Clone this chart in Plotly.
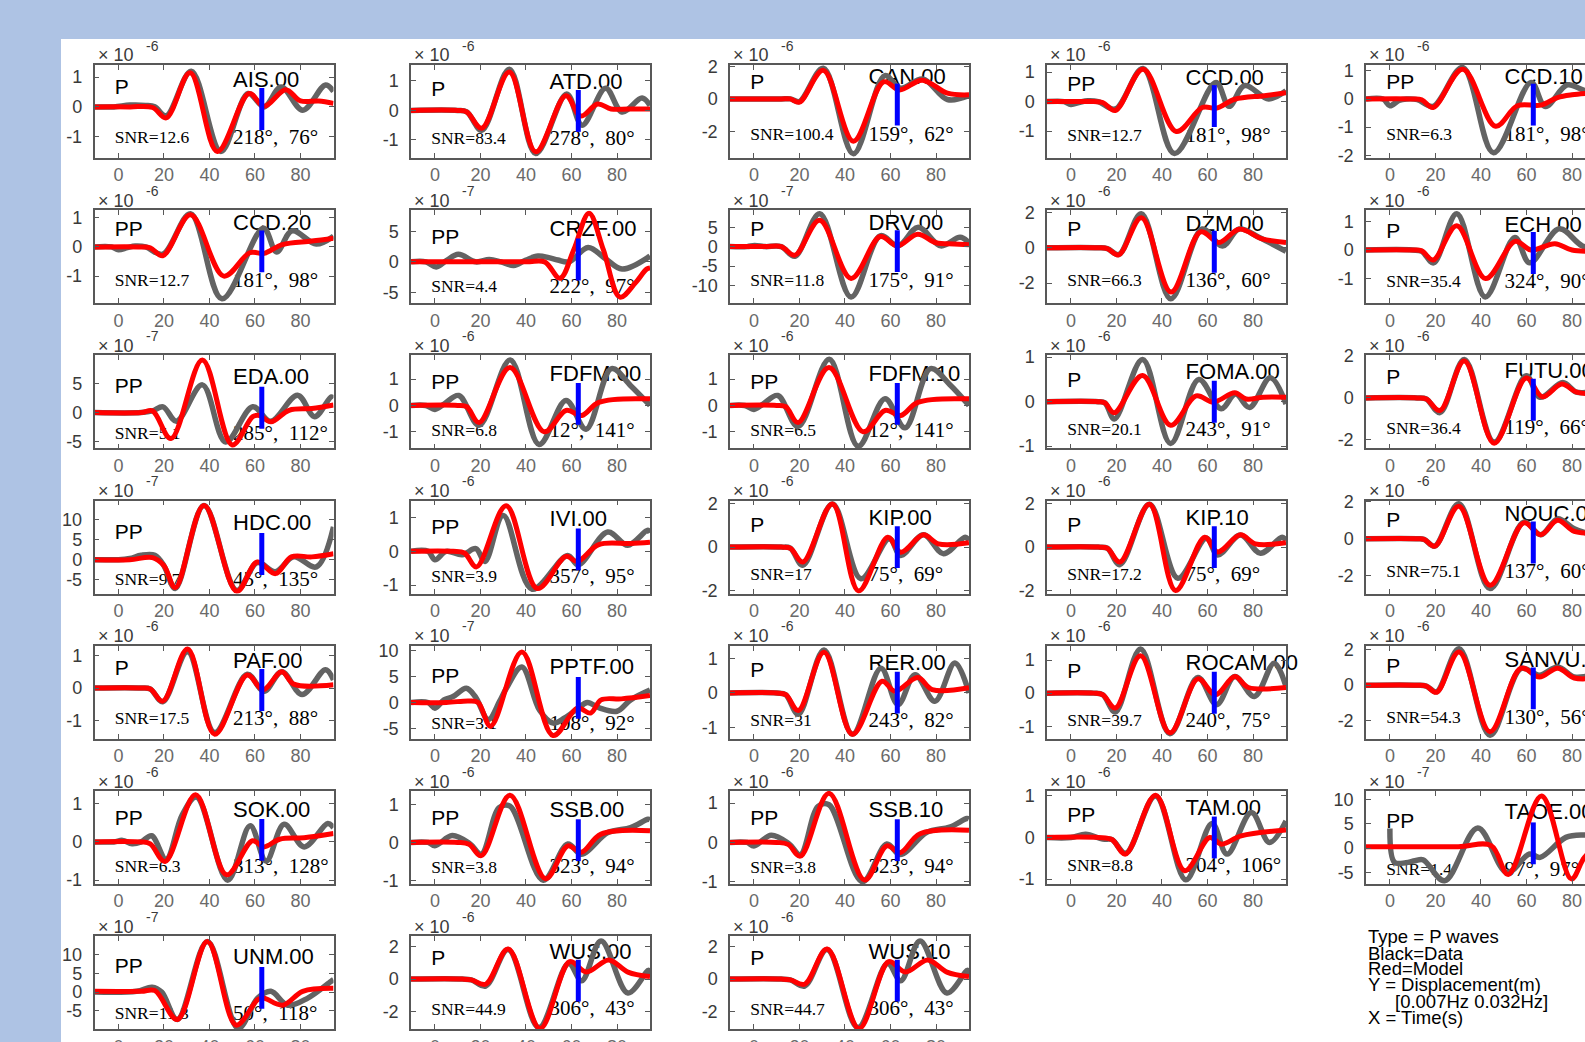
import plotly.graph_objects as go

# ---------------- data ----------------
stations = ["AIS.00", "ATD.00", "CAN.00", "CCD.00", "CCD.10",
            "CCD.20", "CRZF.00", "DRV.00", "DZM.00", "ECH.00",
            "EDA.00", "FDFM.00", "FDFM.10", "FOMA.00", "FUTU.00",
            "HDC.00", "IVI.00", "KIP.00", "KIP.10", "NOUC.00",
            "PAF.00", "PPTF.00", "RER.00", "ROCAM.00", "SANVU.00",
            "SOK.00", "SSB.00", "SSB.10", "TAM.00", "TAOE.00",
            "UNM.00", "WUS.00", "WUS.10"]
phases = ["P", "P", "P", "PP", "PP",
          "PP", "PP", "P", "P", "P",
          "PP", "PP", "PP", "P", "P",
          "PP", "PP", "P", "P", "P",
          "P", "PP", "P", "P", "P",
          "PP", "PP", "PP", "PP", "PP",
          "PP", "P", "P"]
exponents = [-6, -6, -6, -6, -6,
             -6, -7, -7, -6, -6,
             -7, -6, -6, -6, -6,
             -7, -6, -6, -6, -6,
             -6, -7, -6, -6, -6,
             -6, -6, -6, -6, -7,
             -7, -6, -6]
snr = ["12.6", "83.4", "100.4", "12.7", "6.3",
       "12.7", "4.4", "11.8", "66.3", "35.4",
       "5.1", "6.8", "6.5", "20.1", "36.4",
       "9.7", "3.9", "17", "17.2", "75.1",
       "17.5", "3.1", "31", "39.7", "54.3",
       "6.3", "3.8", "3.8", "8.8", "1.4",
       "11.3", "44.9", "44.7"]
azimuth = [218, 278, 159, 181, 181,
           181, 222, 175, 136, 324,
           285, 12, 12, 243, 119,
           45, 357, 75, 75, 137,
           213, 108, 243, 240, 130,
           313, 323, 323, 304, 97,
           50, 306, 306]
takeoff = [76, 80, 62, 98, 98,
           98, 97, 91, 60, 90,
           112, 141, 141, 91, 66,
           135, 95, 69, 69, 60,
           88, 92, 82, 75, 56,
           128, 94, 94, 106, 97,
           118, 43, 43]
y_low = [-1.72, -1.61, -3.63, -1.91, -2.1,
         -1.93, -6.8, -14.6, -3.13, -1.86,
         -6.2, -1.63, -1.63, -1.05, -2.4,
         -8.5, -1.25, -2.12, -2.12, -2.97,
         -1.55, -7.05, -1.33, -1.38, -3.0,
         -1.1, -1.1, -1.06, -1.12, -7.35,
         -9.9, -3.1, -3.1]
y_high = [1.41, 1.54, 2.08, 1.24, 1.21,
          1.26, 8.5, 9.4, 2.12, 1.39,
          9.9, 1.9, 1.9, 1.04, 2.02,
          14.8, 1.5, 2.12, 2.12, 2.07,
          1.29, 11.0, 1.37, 1.43, 2.2,
          1.33, 1.36, 1.31, 1.12, 11.7,
          14.9, 2.65, 2.65]
y_step = [1, 1, 2, 1, 1,
          1, 5, 5, 2, 1,
          5, 1, 1, 1, 2,
          5, 1, 2, 2, 2,
          1, 5, 1, 1, 2,
          1, 1, 1, 1, 5,
          5, 2, 2]
x_ticks = [0, 20, 40, 60, 80]
marker_time = 63

# observed (data) traces: times (s) and values (x 10^exponent m)
data_t = [
    [-10.5, -2, 5, 12, 16, 21, 32, 45, 57, 64, 71.5, 81, 91, 94.5],
    [-10.5, 10, 14, 20.6, 32.7, 44.3, 57.9, 64.7, 75, 82.2, 91, 94.5],
    [-10.5, 12, 16, 20, 30.5, 43.7, 57.5, 64.4, 74.2, 85, 94.5],
    [-10.5, -3, 0, 4, 7.4, 12, 19.5, 31.7, 45.5, 63.7, 69.5, 76.3, 86.9, 94.5],
    [-10.5, -3, 0, 4, 7.3, 12, 19, 32, 45.5, 62, 68.3, 77.9, 86, 94.5],
    [-10.5, -3, 0, 4, 7.4, 12, 19.5, 31.7, 45.5, 63.7, 69.5, 76.3, 86.9, 94.5],
    [-10.5, -4, 0.6, 5, 10.3, 18, 23.9, 29, 34.6, 40, 45.3, 50, 54, 58.9, 67.3, 75, 82.2, 94.5],
    [-10.5, -3, 0.3, 5, 12, 18, 28.9, 42.7, 55.5, 63.4, 72.2, 82.1, 90.6, 94.5],
    [-10.5, 12, 16, 21.1, 30.9, 43.9, 57.7, 66.6, 73.9, 82.8, 94.5],
    [-10.5, 10, 14, 19.2, 29.4, 41.9, 54.9, 61.4, 74.4, 84.6, 94.5],
    [-10.5, 10, 15, 19.6, 25.5, 36.9, 47.1, 59, 66.9, 78.7, 86.2, 93.5, 94.5],
    [-10.5, -4, 0, 4, 10.5, 19.4, 33.1, 45.8, 57.6, 66.4, 77.6, 86, 94.5],
    [-10.5, -4, 0, 4, 10.5, 19.4, 33.1, 45.8, 57.6, 66.4, 77.6, 86, 94.5],
    [-10.5, 12, 15, 19.1, 31.5, 43.8, 56.2, 66, 72.3, 78.5, 87.6, 94.5],
    [-10.5, 12, 16, 22, 32.7, 45.8, 59.9, 66, 76, 82, 90, 94.5],
    [-10.5, 0, 5, 10, 16, 20, 25, 37.6, 52, 61, 69, 77, 87, 94.5],
    [-10.5, -3, 0, 5, 12, 18, 22, 30, 42.7, 58.3, 63, 75.9, 84.7, 93.5, 94.5],
    [-10.5, 12, 16, 21.5, 34.5, 47, 59.5, 64.5, 74.5, 83.3, 92.8, 94.5],
    [-10.5, 12, 16, 21.5, 34.5, 47, 59.5, 64.5, 74.5, 83.3, 92.8, 94.5],
    [-10.5, 12, 15, 19.7, 30.3, 44, 58.8, 66.3, 73.7, 81, 90, 94.5],
    [-10.5, 10, 14, 19.5, 30.4, 42.3, 56.6, 64, 71.8, 80.7, 91, 94.5],
    [-10.5, -3, 0, 4, 8, 13.8, 17.7, 23.5, 28.4, 31.4, 38.2, 46, 52, 57, 63, 67, 72, 80, 86, 94.5],
    [-10.5, 10, 14, 19.5, 30.8, 43.3, 55.8, 63.3, 70.8, 79.5, 88.3, 94.5],
    [-10.5, 10, 14, 19.5, 30.6, 43.5, 55.8, 64, 72, 80.6, 89.3, 94.5],
    [-10.5, 12, 16, 20.5, 30.4, 44, 57.6, 65.7, 73.7, 81, 88, 94.5],
    [-10.5, -2, 1.8, 6, 10, 14.6, 21, 28, 34.3, 48, 57.9, 64.9, 72.8, 81.6, 92, 94.5],
    [-10.5, -3, 0, 7.6, 15.5, 20.4, 28.2, 33, 47.6, 58.4, 64.3, 76, 86, 93.6, 94.5],
    [-10.5, -3, 0, 7.6, 15.5, 20.4, 28.2, 33, 47.6, 58.4, 64.3, 76, 86, 93.6, 94.5],
    [-10.5, 0, 6.5, 14, 18, 24.1, 37.2, 50.5, 62, 68.6, 79.3, 87.2, 94.5],
    [0, 2, 7, 11, 14.6, 24, 38.6, 51.4, 61.3, 66, 77.3, 85.5, 94.5],
    [-10.5, 8, 14.8, 19, 25.9, 39.1, 52.6, 61.2, 67, 74.4, 83.2, 93.5, 94.5],
    [-10.5, 12, 16, 22.3, 32.2, 45.7, 58.7, 64.5, 73, 84.8, 93.9, 94.5],
    [-10.5, 12, 16, 22.3, 32.2, 45.7, 58.7, 64.5, 73, 84.8, 93.9, 94.5],
]
data_v = [
    [0, 0, 0.06, 0.05, 0, -0.3, 1.2, -1.5, 0.45, 0.0, 0.67, -0.11, 0.74, 0.52],
    [0, 0, -0.05, -0.67, 1.4, -1.46, 0.56, -0.5, 0.75, -0.05, 0.42, 0.17],
    [0, 0, 0, -0.16, 1.88, -3.37, 1.43, 0.65, 1.22, -0.04, 0.2],
    [0, 0, -0.1, -0.02, 0.03, 0, -0.25, 1.12, -1.76, 0.65, -0.16, 0.54, 0.09, 0.37],
    [0, 0, -0.24, -0.05, 0.0, -0.02, -0.26, 1.12, -1.91, 0.59, -0.27, 0.5, 0.3, 0.35],
    [0, 0, -0.1, -0.02, 0.03, 0, -0.25, 1.14, -1.78, 0.64, -0.17, 0.55, 0.1, 0.37],
    [0, 0, -0.84, 0.2, 1.24, 0, 0.4, 0, -0.6, 0.3, 0.95, 0.7, 0.3, 0.0, 2.36, 0.5, -1.18, 0.95],
    [0, 0, 0.3, 0, 0, -2.5, 8.5, -13, 2.8, 0.2, 5, 0.2, 2.4, 1.0],
    [0, 0, -0.05, -0.38, 1.92, -2.88, 1.06, 0.1, 1.06, 0.58, -0.2],
    [0, 0, -0.05, -0.45, 1.27, -1.64, 0.44, -0.45, 0.74, 0.14, 0.0],
    [0, 0, 0.3, 1.0, -1.5, 4.8, -5.1, 1.0, -1.5, 3.0, -0.7, 2.7, 2.5],
    [0, 0, -0.15, 0.05, 0.38, -0.75, 1.73, -1.48, 0.19, -0.9, 1.4, 0.75, 0.0],
    [0, 0, -0.15, 0.05, 0.38, -0.8, 1.75, -1.55, 0.25, -0.85, 1.4, 0.8, 0.0],
    [0, 0, -0.03, -0.39, 0.95, -0.94, 0.5, -0.16, 0.17, -0.13, 0.54, -0.05],
    [0, 0, -0.05, -0.7, 1.83, -2.1, 1.05, 0.03, 0.73, 0.27, 0.3, 0.3],
    [0, 0, 0.3, 1.1, 1.1, -1.5, -7.2, 13.6, -7.7, -0.75, -3, 0.7, -1.8, 8.2],
    [0, 0, -0.25, 0, -0.1, 0.08, -0.3, 1.06, -1.12, -0.12, -0.4, 0.57, 0.18, 0.62, 0.55],
    [0, 0, -0.05, -0.83, 1.97, -1.44, 0.38, -0.38, 0.56, -0.3, 0.45, 0.3],
    [0, 0, -0.05, -0.8, 1.95, -1.42, 0.4, -0.36, 0.55, -0.28, 0.45, 0.3],
    [0, 0, -0.03, -0.4, 1.9, -2.7, 0.9, 0.22, 1.08, 0.54, 0.2, 0.1],
    [0, 0, -0.03, -0.42, 1.11, -1.36, 0.42, -0.1, 0.5, -0.2, 0.56, 0.25],
    [0, 0, -1.1, 0.5, 1.15, 2.75, 1.15, -3.3, 0.2, 2.75, 6.9, -1.5, -4.0, -3.0, -1.1, 0.0, -1.0, -1.7, 0.5, 2.4],
    [0, 0, -0.05, -0.62, 1.25, -1.2, 0.72, -0.34, 0.53, -0.24, 0.87, 0.0],
    [0, 0, -0.05, -0.57, 1.33, -1.23, 0.47, -0.35, 0.5, -0.1, 0.9, 0.2],
    [0, 0, -0.05, -0.37, 2.04, -2.8, 0.93, 0.56, 1.02, 0.46, 0.5, 0.4],
    [0, 0, 0.04, -0.05, 0, 0.16, -0.45, 0.7, 1.17, -1.0, 0.42, -0.5, 0.46, -0.13, 0.48, 0.37],
    [0, 0, -0.09, 0.18, -0.04, -0.31, 0.92, 0.96, -1.0, -0.04, -0.31, 0.26, 0.39, 0.61, 0.6],
    [0, 0, -0.09, 0.18, -0.04, -0.31, 0.92, 0.96, -1.0, -0.04, -0.31, 0.26, 0.39, 0.61, 0.6],
    [0, 0, 0.08, -0.04, -0.05, -0.38, 1.0, -1.02, 0.34, -0.4, 0.6, -0.12, 0.4],
    [4.0, -2.9, -3.0, -2.6, -2.4, -6.7, 4.1, -5.0, -1.2, -1.9, 2.2, 2.7, 2.5],
    [0, 0.2, 1.3, 0, -7.3, 13.5, -9.7, -1.6, 0.2, -3.5, -1.6, 2.9, 3.3],
    [0, 0, -0.05, -0.43, 1.82, -3.0, 0.96, -0.1, 2.36, -0.86, 0.54, 0.3],
    [0, 0, -0.05, -0.43, 1.82, -3.0, 0.96, -0.1, 2.36, -0.86, 0.54, 0.3],
]
# synthetic (model) traces
model_t = [
    [-10.5, 5, 15, 21, 31.5, 43.5, 57.4, 64, 73.5, 80, 88, 94.5],
    [-10.5, 10, 14, 20.6, 32.7, 44.3, 57.5, 64, 71.5, 77.4, 85, 94.5],
    [-10.5, 12, 16, 20, 30.5, 43.7, 57, 64, 74, 85, 94.5],
    [-10.5, 10, 14, 19.5, 31.7, 46.3, 57.7, 64, 72, 85, 94.5],
    [-10.5, 10, 14, 19, 32, 46.4, 56, 66.3, 73.6, 80, 94.5],
    [-10.5, 10, 14, 19.5, 31.7, 46.3, 57.7, 64, 72, 85, 94.5],
    [-10.5, 40, 48.2, 55, 61, 67.7, 74, 81.3, 88, 93, 94.5],
    [-10.5, 5, 12, 18, 28.9, 42.7, 55.5, 63, 72, 80, 88, 94.5],
    [-10.5, 12, 16, 21, 31, 44, 57, 65, 74, 84, 94.5],
    [-10.5, 10, 14, 19, 29.4, 42, 55, 62, 72.5, 80, 94.5],
    [-10.5, 10, 15, 23.1, 36.9, 50, 59, 62, 67, 75, 85, 94.5],
    [-10.5, 10, 14, 19.4, 33, 48, 57.6, 64.5, 72, 94.5],
    [-10.5, 10, 14, 19.4, 33, 48, 57.6, 64.5, 72, 94.5],
    [-10.5, 12, 15, 19, 31.5, 43.8, 55, 62.6, 72, 77, 84.5, 94.5],
    [-10.5, 12, 16, 22, 32.7, 45.8, 59.9, 67, 75.5, 82, 90, 94.5],
    [-10.5, 5, 15, 20, 25, 37.6, 52, 61, 69, 76, 85, 94.5],
    [-10.5, 8, 13, 18.3, 31.3, 45, 57.6, 62.5, 72, 86, 94.5],
    [-10.5, 12, 16, 21.5, 34.5, 46, 58.8, 64.5, 74.5, 81, 94.5],
    [-10.5, 12, 16, 21.5, 34.5, 46, 58.8, 64.5, 74.5, 81, 94.5],
    [-10.5, 12, 15, 19.7, 30.3, 44, 58.8, 66.3, 73.7, 81, 90, 94.5],
    [-10.5, 10, 14, 19.5, 30.4, 42.3, 56.6, 63.5, 71.8, 77, 94.5],
    [-10.5, 5, 15, 19, 24.5, 38.2, 51.9, 62.6, 68.4, 73, 81.9, 94.5],
    [-10.5, 10, 14, 19.5, 30.8, 43.3, 56.3, 62, 72, 78.3, 94.5],
    [-10.5, 10, 14, 19.5, 30.6, 43.5, 55.8, 63.5, 72, 78, 94.5],
    [-10.5, 12, 16, 20.5, 30.4, 44, 57.6, 65.7, 73.7, 81, 88, 94.5],
    [-10.5, 10, 14, 20.5, 33.9, 47.5, 58.9, 63.9, 70.8, 81.6, 94.5],
    [-10.5, 10, 15, 20.4, 33, 48.6, 58.4, 64.3, 73, 94.5],
    [-10.5, 10, 15, 20.4, 33, 48.6, 58.4, 64.3, 73, 94.5],
    [-10.5, 12, 18, 24, 37.2, 50, 61, 66.2, 74.8, 94.5],
    [-10.5, 30, 44.5, 52, 66.6, 79.7, 85.5, 94.5],
    [-10.5, 10, 16, 25.9, 39.1, 51.7, 61.2, 63.7, 72.2, 81, 94.5],
    [-10.5, 12, 16, 22.3, 32.2, 46.2, 59.2, 66.5, 76.4, 84.8, 94.5],
    [-10.5, 12, 16, 22.3, 32.2, 46.2, 59.2, 66.5, 76.4, 84.8, 94.5],
]
model_v = [
    [0, 0, -0.02, -0.37, 1.15, -1.5, 0.45, 0.02, 0.58, 0.2, 0.2, 0.12],
    [0, 0, -0.05, -0.6, 1.3, -1.4, 0.5, -0.19, 0.22, 0.05, 0.05, 0.05],
    [0, 0, 0, -0.2, 1.75, -2.6, 1.05, 0.55, 1.15, 0.35, 0.25],
    [0, 0, -0.03, -0.3, 1.1, -1.01, -0.2, -0.22, 0.08, 0.2, 0.3],
    [0, 0, -0.03, -0.3, 1.06, -0.97, -0.24, -0.22, 0.05, 0.15, 0.25],
    [0, 0, -0.03, -0.3, 1.1, -1.0, -0.2, -0.22, 0.08, 0.2, 0.3],
    [0, 0, 0, -2.7, 2.0, 8.0, 2.0, -5.8, -3.5, -1.2, -1.0],
    [0, 0, 0, -2.2, 6.8, -8.2, 2.6, 0.2, 3.2, 1.0, 0.7, 0.5],
    [0, 0, -0.05, -0.4, 1.7, -2.5, 0.9, 0.3, 1.05, 0.5, 0.3],
    [0, 0, -0.03, -0.35, 0.85, -1.0, 0.3, 0.0, 0.22, 0.0, -0.05],
    [0, 0, 0.3, -4.5, 9.1, -5.6, -0.7, -0.5, -1.6, 0.4, 0.7, 1.3],
    [0, 0, -0.05, -0.65, 1.44, -1.0, -0.19, -0.38, 0.12, 0.25],
    [0, 0, -0.05, -0.65, 1.44, -1.0, -0.19, -0.38, 0.12, 0.25],
    [0, 0, -0.03, -0.25, 0.59, -0.53, 0.13, -0.01, 0.2, 0.06, 0.1, 0.1],
    [0, 0, -0.05, -0.6, 1.75, -2.15, 0.95, 0.05, 0.66, 0.27, 0.2, 0.2],
    [0, 0, 0.5, -1.5, -7, 13.6, -7.9, -0.6, -3.5, 0.7, 0.7, 1.5],
    [0, 0, -0.05, -0.46, 1.35, -1.1, -0.15, -0.3, 0.2, 0.23, 0.27],
    [0, 0, -0.05, -0.68, 1.97, -2.0, 0.45, -0.23, 0.56, 0.15, 0.2],
    [0, 0, -0.05, -0.68, 1.95, -1.98, 0.45, -0.22, 0.56, 0.15, 0.2],
    [0, 0, -0.03, -0.4, 1.77, -2.52, 0.86, 0.22, 1.0, 0.4, 0.3, 0.25],
    [0, 0, -0.03, -0.4, 1.19, -1.41, 0.4, -0.05, 0.5, 0.12, 0.1],
    [0, 0, 0.3, 0, -4.6, 9.8, -6.4, -1.1, -2.05, 0.5, 0.7, 1.35],
    [0, 0, -0.05, -0.51, 1.18, -1.2, 0.34, 0.05, 0.45, 0.1, 0.15],
    [0, 0, -0.05, -0.45, 1.13, -1.2, 0.43, -0.05, 0.5, 0.17, 0.17],
    [0, 0, -0.05, -0.4, 1.85, -2.6, 0.95, 0.45, 0.95, 0.4, 0.35, 0.3],
    [0, 0, -0.05, -0.51, 1.23, -0.86, 0.03, -0.13, 0.07, 0.11, 0.22],
    [0, 0, -0.05, -0.35, 1.25, -0.96, -0.09, -0.26, 0.22, 0.31],
    [0, 0, -0.05, -0.35, 1.25, -0.96, -0.09, -0.26, 0.22, 0.31],
    [0, 0, -0.05, -0.4, 1.02, -0.8, 0.0, -0.16, 0.04, 0.18],
    [0.3, 0.3, 0.5, -5.4, 10.7, -6.3, -1.9, 2.0],
    [0.2, 0.2, 0.4, -7.3, 13.5, -8.8, -2.0, -1.6, -3.5, 0.2, 1.0],
    [0, 0, -0.05, -0.32, 1.86, -3.06, 1.07, 0.43, 1.18, 0.43, 0.15],
    [0, 0, -0.05, -0.32, 1.86, -3.06, 1.07, 0.43, 1.18, 0.43, 0.15],
]
legend_lines = ["Type = P waves", "Black=Data", "Red=Model",
                "Y = Displacement(m)", "[0.007Hz 0.032Hz]", "X = Time(s)"]

# ---------------- layout geometry (pixels) ----------------
W, H = 1585, 1042
col_left = [94.5, 411.0, 730.0, 1047.0, 1366.0]
row_top = [65.0, 210.2, 355.4, 500.6, 645.8, 791.0, 936.2]
box_w, box_h = 239.0, 93.0
t_min, t_max = -10.5, 94.5
px_per_s = box_w / (t_max - t_min)
name_t = 52.0
text_shift = -1.6

GREY = "#636363"
AXC = "#585858"
SANS = "Liberation Sans"
SERIF = "Liberation Serif"

fig = go.Figure()
layout = {}
annotations = []


def ytick_info(lo, hi, step):
    vals = []
    v = int(lo // step) * step
    while v <= hi + 1e-9:
        if v >= lo - 1e-9:
            vals.append(v)
        v += step
    txt = [str(int(round(x))) for x in vals]
    return vals, txt


for i, name in enumerate(stations):
    r, c = divmod(i, 5)
    k = i + 1
    xa = "x" if k == 1 else f"x{k}"
    ya = "y" if k == 1 else f"y{k}"
    left = col_left[c]
    right = min(left + box_w, W)
    top = row_top[r]
    bottom = top + box_h
    x_hi = t_min + (right - left) / px_per_s
    lo, hi = y_low[i], y_high[i]

    # text (drawn first so the waveforms overlay it)
    fig.add_trace(go.Scatter(
        x=[text_shift, name_t + text_shift, text_shift, name_t + text_shift],
        y=[0.44 * hi, 0.60 * hi, 0.62 * lo, 0.62 * lo],
        mode="text",
        text=[phases[i], name, f"SNR={snr[i]}",
              f"{azimuth[i]}°,\u2002{takeoff[i]}°"],
        textposition="middle right",
        textfont=dict(family=[SANS, SANS, SERIF, SERIF],
                      size=[21, 22, 17.5, 21], color="black"),
        cliponaxis=False, showlegend=False, hoverinfo="skip",
        xaxis=xa, yaxis=ya))
    # data (grey)
    fig.add_trace(go.Scatter(
        x=data_t[i], y=data_v[i], mode="lines",
        line=dict(color=GREY, width=5.5, shape="spline", smoothing=1.0),
        showlegend=False, hoverinfo="skip", xaxis=xa, yaxis=ya))
    # model (red)
    fig.add_trace(go.Scatter(
        x=model_t[i], y=model_v[i], mode="lines",
        line=dict(color="#ff0000", width=5, shape="spline", smoothing=1.0),
        showlegend=False, hoverinfo="skip", xaxis=xa, yaxis=ya))
    # blue marker
    fig.add_trace(go.Scatter(
        x=[marker_time, marker_time], y=[0.45 * lo, 0.45 * hi], mode="lines",
        line=dict(color="#0000ff", width=5),
        showlegend=False, hoverinfo="skip", xaxis=xa, yaxis=ya))

    yvals, ytxt = ytick_info(lo, hi, y_step[i])
    common = dict(showline=True, linecolor=AXC, linewidth=1.5,
                  ticks="inside", ticklen=5, tickwidth=1.2, tickcolor=AXC,
                  showgrid=False, zeroline=False, fixedrange=True,
                  automargin=False)
    layout["xaxis" if k == 1 else f"xaxis{k}"] = dict(
        domain=[left / W, right / W], range=[t_min, x_hi], anchor=ya,
        tickmode="array", tickvals=x_ticks, ticktext=[str(v) for v in x_ticks],
        tickfont=dict(family=SANS, size=18, color="#6a6a6a"),
        ticklabelstandoff=0, mirror="ticks", **common)
    layout["yaxis" if k == 1 else f"yaxis{k}"] = dict(
        domain=[1 - bottom / H, 1 - top / H], range=[lo, hi], anchor=xa,
        tickmode="array", tickvals=yvals, ticktext=ytxt,
        tickfont=dict(family=SANS, size=18, color="#3a3a3a"),
        ticklabelstandoff=7, mirror=("ticks" if c < 4 else False), **common)

    # x10^n exponent label
    annotations.append(dict(
        x=(left + 1) / W, y=1 - (top - 9.5) / H, xref="paper", yref="paper",
        xanchor="left", yanchor="middle", showarrow=False, text="× 10",
        font=dict(family=SANS, size=18, color="#3a3a3a")))
    annotations.append(dict(
        x=(left + 49) / W, y=1 - (top - 19.5) / H, xref="paper", yref="paper",
        xanchor="left", yanchor="middle", showarrow=False,
        text=str(exponents[i]),
        font=dict(family=SANS, size=14, color="#3a3a3a")))

# legend text block
legend_y = [936.5, 953.0, 968.8, 984.5, 1001.0, 1017.0]
for j, line in enumerate(legend_lines):
    annotations.append(dict(
        x=(1366.0 if j != 4 else 1393.0) / W, y=1 - legend_y[j] / H,
        xref="paper", yref="paper", xanchor="left", yanchor="middle",
        showarrow=False, text=line,
        font=dict(family=SANS, size=18.5, color="black")))

layout.update(dict(
    width=W, height=H, autosize=False,
    margin=dict(l=0, r=0, t=0, b=0, pad=0),
    paper_bgcolor="#aec3e4", plot_bgcolor="white",
    annotations=annotations,
    shapes=[dict(type="rect", xref="paper", yref="paper",
                 x0=61 / W, x1=1.0, y0=0, y1=1 - 39 / H,
                 fillcolor="white", line=dict(width=0), layer="below")],
    showlegend=False,
))
fig.update_layout(layout)
fig.write_html("out.html", config={"displayModeBar": False},
               post_script="document.body.style.margin='0';document.body.style.overflow='hidden';")
